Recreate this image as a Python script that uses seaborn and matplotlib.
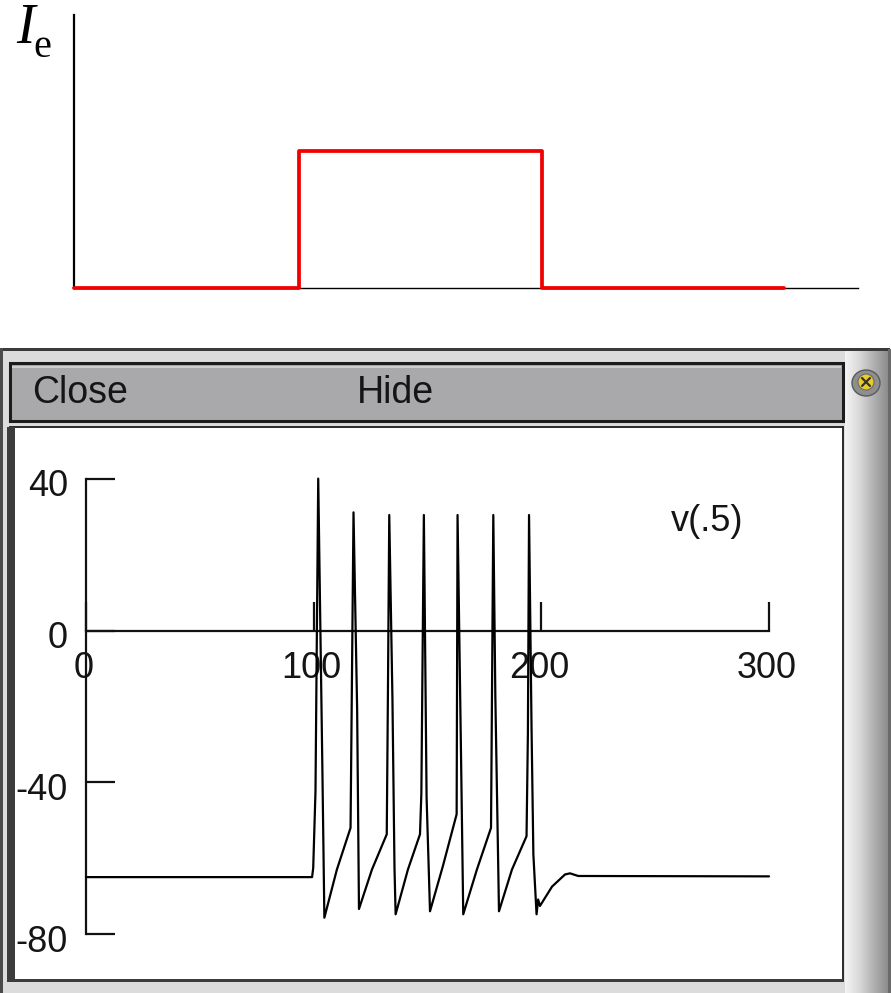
import numpy as np
import pandas as pd
import matplotlib
matplotlib.use("Agg")
import matplotlib.pyplot as plt
import matplotlib.transforms as mtransforms
import seaborn as sns
from matplotlib.patches import Rectangle, Ellipse, Circle

# ---------------- data ----------------
# injected current step I_e (arbitrary units)
stim_time = [7, 100, 100, 200, 200, 300]
stim_current = [0, 0, 1, 1, 0, 0]

# membrane potential v(.5) in mV vs time in ms
v_time = [0, 99.3, 99.8, 100.8, 102.0, 103.8, 104.7,
          110.2, 116.2, 117.5, 119.1, 119.9,
          125.6, 132.1, 132.6, 133.2, 134.6, 135.5, 136.0,
          141.4, 146.7, 147.3, 148.4, 149.6, 151.1,
          156.8, 162.8, 163.2, 164.7, 165.7,
          171.7, 177.9, 178.9, 179.8, 181.4,
          187.1, 193.5, 194.1, 194.6, 195.7, 196.5, 197.9,
          198.6, 199.4, 204.7, 210.4, 212.6, 216.2, 300]
v_mv = [-65, -65, -62.6, -42.4, 40.1, -35.3, -75.7,
        -63, -52, 31.2, -20.9, -73.4,
        -63, -53.7, -17.8, 30.5, -17.9, -62.5, -74.8,
        -63, -53.7, -43, 30.5, -44, -74,
        -62, -48.4, 30.5, -31.8, -74.8,
        -63, -52, 30.5, -17.4, -74,
        -63, -54.2, -27, 30.5, -25.7, -59, -74.8,
        -70.9, -72.6, -67.5, -64.3, -64.0, -64.7, -64.8]

x_ticks = [0, 100, 200, 300]
x_tick_labels = ["0", "100", "200", "300"]
y_ticks = [40, 0, -40, -80]
y_tick_labels = ["40", "0", "-40", "-80"]
trace_label = "v(.5)"
button_labels = ["Close", "Hide"]

# ---------------- figure ----------------
sns.set_theme(style="white")
plt.rcParams["font.family"] = ["Liberation Sans", "DejaVu Sans"]

W, H = 891, 993
fig = plt.figure(figsize=(W / 100, H / 100), dpi=100)
fig.patch.set_facecolor("white")


def rect(l, t, r, b):
    return [l / W, 1 - b / H, (r - l) / W, (b - t) / H]


# background / window chrome in pixel coordinates
bg = fig.add_axes([0, 0, 1, 1], zorder=0)
bg.set_xlim(0, W)
bg.set_ylim(H, 0)
bg.axis("off")

bg.add_patch(Rectangle((0, 349), 890, 644, fc="#dcdcdc", ec="none"))
bg.add_patch(Rectangle((0, 347.5), 890, 3, fc="#3a3a3a", ec="none"))
bg.add_patch(Rectangle((0, 347.5), 2.5, 646, fc="#4a4a4a", ec="none"))
# right scroll strip gradient
grad = np.linspace(0, 1, 60)[None, :]
bg.imshow(grad, extent=(845, 889, 993, 351), cmap=matplotlib.colors.LinearSegmentedColormap.from_list(
    "g", ["#f4f4f4", "#d8d8d8", "#b0b0b0", "#8a8a8a"]), aspect="auto", zorder=1)
bg.add_patch(Rectangle((888, 349), 2.5, 644, fc="#6a6a6a", ec="none", zorder=2))
# button bar
bg.add_patch(Rectangle((10, 363), 833, 58, fc="#a9a8aa", ec="#1c1c1c", lw=2.2, zorder=2))
bg.add_patch(Rectangle((12, 365.5), 829, 2, fc="#cfcfcf", ec="none", zorder=3))
# plot area
bg.add_patch(Rectangle((10, 427), 833, 554, fc="white", ec="#2a2a2a", lw=1.4, zorder=2))
bg.add_patch(Rectangle((7, 427), 8, 554, fc="#3c3c3c", ec="none", zorder=3))
bg.add_patch(Rectangle((7, 979), 836, 3, fc="#3c3c3c", ec="none", zorder=3))
# close icon
bg.add_patch(Ellipse((866, 383), 28, 26, fc="#8e8e8e", ec="#5a5a5a", lw=1, zorder=4))
bg.add_patch(Circle((866, 382), 8, fc="#e8cc2a", ec="#6a6a6a", lw=0.8, zorder=5))
bg.plot([862, 870], [378, 386], color="#333333", lw=1.6, zorder=6)
bg.plot([862, 870], [386, 378], color="#333333", lw=1.6, zorder=6)

bg.text(32, 393, button_labels[0], fontsize=27, color="#151515", ha="left", va="center", zorder=5)
bg.text(357, 393, button_labels[1], fontsize=27, color="#151515", ha="left", va="center", zorder=5)

# I_e label
bg.text(16, 43, "I", fontsize=40, family=["Liberation Serif"], style="italic",
        color="black", ha="left", va="baseline", zorder=5)
bg.text(33, 57, "e", fontsize=29, family=["Liberation Serif"],
        color="black", ha="left", va="baseline", zorder=5)

# ---------------- top panel: stimulus ----------------
ax_top = fig.add_axes(rect(74, 15, 858, 288), zorder=2)
ax_top.patch.set_alpha(0)
sns.lineplot(x=stim_time, y=stim_current, ax=ax_top, color="#f00000", lw=2.7,
             estimator=None, sort=False, clip_on=False, zorder=5)
ax_top.set_xlim(7, 330.6)
ax_top.set_ylim(0, 1.993)
for s in ["top", "right"]:
    ax_top.spines[s].set_visible(False)
ax_top.spines["left"].set_linewidth(1.6)
ax_top.spines["left"].set_color("black")
ax_top.spines["bottom"].set_linewidth(1.0)
ax_top.spines["bottom"].set_color("black")
ax_top.set_xticks([])
ax_top.set_yticks([])
ax_top.set_xlabel("")
ax_top.set_ylabel("")

# ---------------- bottom panel: voltage trace ----------------
ax = fig.add_axes(rect(86, 479, 769, 934), zorder=3)
ax.patch.set_alpha(0)
df_v = pd.DataFrame({"t": v_time, "v": v_mv})
sns.lineplot(data=df_v, x="t", y="v", ax=ax, color="black", lw=1.6,
             estimator=None, sort=False, clip_on=False, zorder=4)
ax.set_xlim(0, 300)
ax.set_ylim(-80, 40)
for s in ["top", "right"]:
    ax.spines[s].set_visible(False)
ax.spines["bottom"].set_position(("data", 0))
for s in ["left", "bottom"]:
    ax.spines[s].set_linewidth(1.6)
    ax.spines[s].set_color("#111111")
ax.set_xticks(x_ticks, x_tick_labels)
ax.set_yticks(y_ticks, y_tick_labels)
ax.tick_params(axis="x", which="major", bottom=True, top=False, direction="in",
               length=21, width=1.6, color="#111111",
               pad=15, labelsize=26, labelcolor="#151515")
ax.tick_params(axis="y", which="major", left=True, right=False, direction="in",
               length=21, width=1.6, color="#111111",
               pad=13, labelsize=26, labelcolor="#151515")
# nudge y tick labels a few pixels down, x tick labels slightly left (as in the screenshot)
y_off = mtransforms.ScaledTranslation(0, -4 / 100, fig.dpi_scale_trans)
for lab in ax.get_yticklabels():
    lab.set_transform(lab.get_transform() + y_off)
x_off = mtransforms.ScaledTranslation(-2 / 100, 0, fig.dpi_scale_trans)
for lab in ax.get_xticklabels():
    lab.set_transform(lab.get_transform() + x_off)
ax.set_xlabel("")
ax.set_ylabel("")
ax.text(272.7, 28.7, trace_label, fontsize=26, color="#151515", ha="center", va="center")

fig.savefig("out.png", dpi=100)
